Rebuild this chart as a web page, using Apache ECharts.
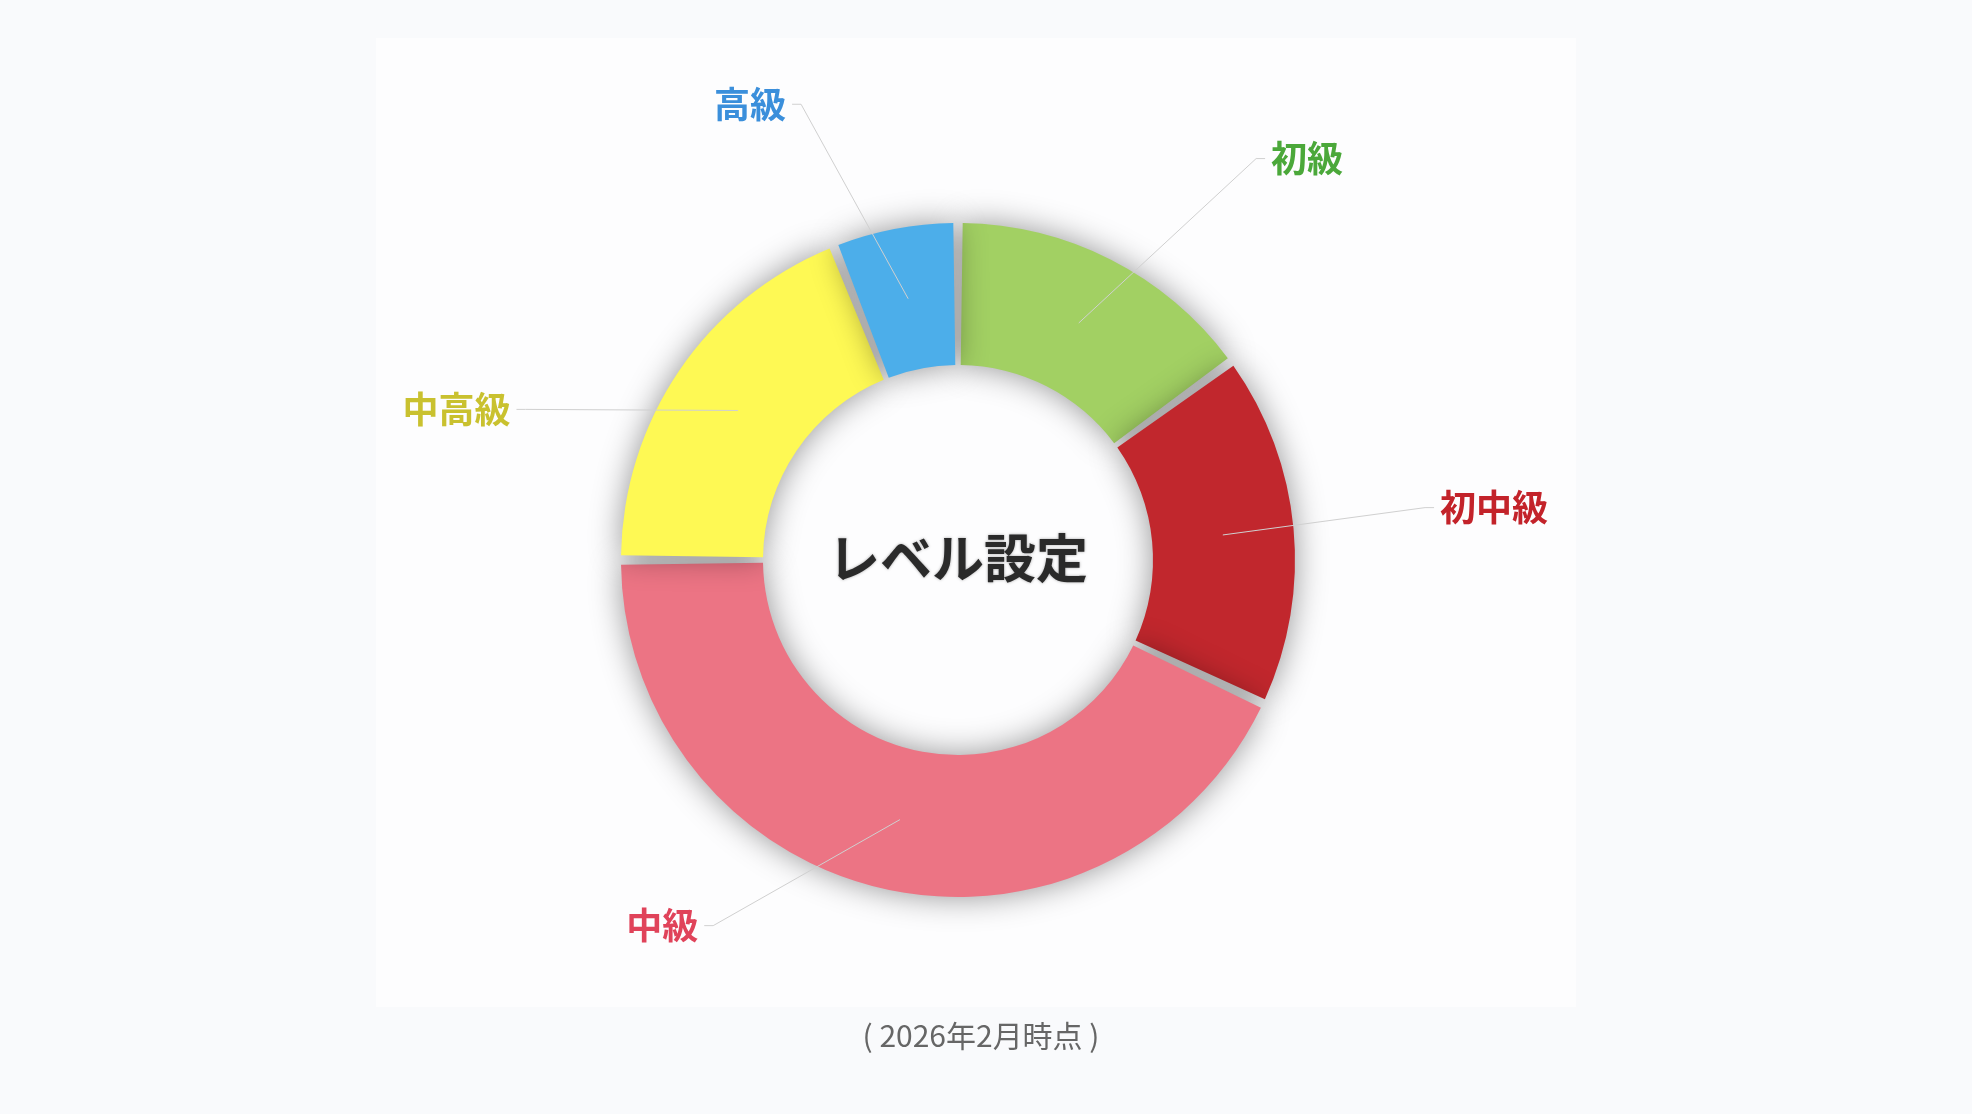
<!DOCTYPE html>
<html>
<head>
<meta charset="utf-8">
<script src="https://cdn.jsdelivr.net/npm/echarts@6/dist/echarts.min.js"></script>
<style>
  html, body { margin: 0; padding: 0; background: #f9fafc; }
  #level { width: 1972px; height: 1114px; }
</style>
</head>
<body>
<div id="level"></div>
<script>
// データ
var levels = ['初級', '初中級', '中級', '中高級', '高級'];
var shares = [15, 17, 43, 19, 6];
var fillColors = ['#a2d063', '#c1272d', '#ec7484', '#fef954', '#4caeea'];
var labelColors = ['#4ba83a', '#c3232a', '#e0435a', '#c9c12f', '#3b8fdb'];

// ラベル配置の調整（角度のずれ・中心からの距離）
var labelTurn = [9.6, -1, 21.2, -15, -8.2];
var labelReach = [500, 470, 440, 458, 482];

var cx = 958, cy = 560;

var myChart = echarts.init(document.getElementById('level'));

var ringData = [];
var labelData = [];
for (var i in levels) {
    ringData.push({
        name: levels[i],
        value: shares[i],
        itemStyle: { color: fillColors[i] }
    });
    labelData.push({
        name: levels[i],
        value: shares[i],
        label: { color: labelColors[i] }
    });
}

var option = {
    animation: false,
    backgroundColor: 'transparent',
    title: [{
        text: 'レベル設定',
        left: 953,
        top: 553,
        textAlign: 'center',
        textVerticalAlign: 'middle',
        textStyle: {
            fontFamily: 'Noto Sans CJK JP',
            fontWeight: 'bold',
            fontSize: 52,
            color: '#2a2a2a',
            textShadowColor: 'rgba(0,0,0,0.35)',
            textShadowBlur: 3
        }
    }, {
        text: '( 2026年2月時点 )',
        left: 976,
        top: 1031,
        textAlign: 'center',
        textVerticalAlign: 'middle',
        textStyle: {
            fontFamily: 'Noto Sans CJK JP',
            fontWeight: 'normal',
            fontSize: 30,
            color: '#666666'
        }
    }],
    graphic: [{
        type: 'rect',
        z: -10,
        shape: { x: 376, y: 38, width: 1200, height: 969 },
        style: { fill: '#fdfdfe' }
    }],
    series: [{
        // ドーナツ本体
        name: 'レベル',
        type: 'pie',
        center: [cx, cy],
        radius: [195, 337],
        startAngle: 90,
        clockwise: true,
        padAngle: 1.6,
        silent: true,
        label: { show: false },
        labelLine: { show: false },
        itemStyle: {
            shadowBlur: 32,
            shadowColor: 'rgba(0,0,0,0.42)'
        },
        data: ringData
    }, {
        // ラベル用（透明）
        name: 'ラベル',
        type: 'pie',
        center: [cx, cy],
        radius: [0, 266],
        startAngle: 90,
        clockwise: true,
        padAngle: 1.6,
        silent: true,
        z: 5,
        itemStyle: { color: 'rgba(0,0,0,0)' },
        label: {
            show: true,
            fontFamily: 'Noto Sans CJK JP',
            fontWeight: 'bold',
            fontSize: 36
        },
        labelLine: {
            show: true,
            length: 210,
            length2: 10,
            lineStyle: { color: '#d0d0d0', width: 1 }
        },
        labelLayout: function (params) {
            var pts = params.labelLinePoints;
            if (!pts) return {};
            var k = params.dataIndex;
            var p0 = pts[0];
            var a = Math.atan2(p0[1] - cy, p0[0] - cx) + labelTurn[k] * Math.PI / 180;
            var ex = cx + labelReach[k] * Math.cos(a);
            var ey = cy + labelReach[k] * Math.sin(a);
            var dir = Math.cos(a) >= 0 ? 1 : -1;
            var hx = ex + dir * 9;
            return {
                x: hx + dir * 6,
                y: ey,
                align: dir > 0 ? 'left' : 'right',
                verticalAlign: 'middle',
                labelLinePoints: [p0, [ex, ey], [hx, ey]]
            };
        },
        data: labelData
    }]
};

myChart.setOption(option);
</script>
</body>
</html>
